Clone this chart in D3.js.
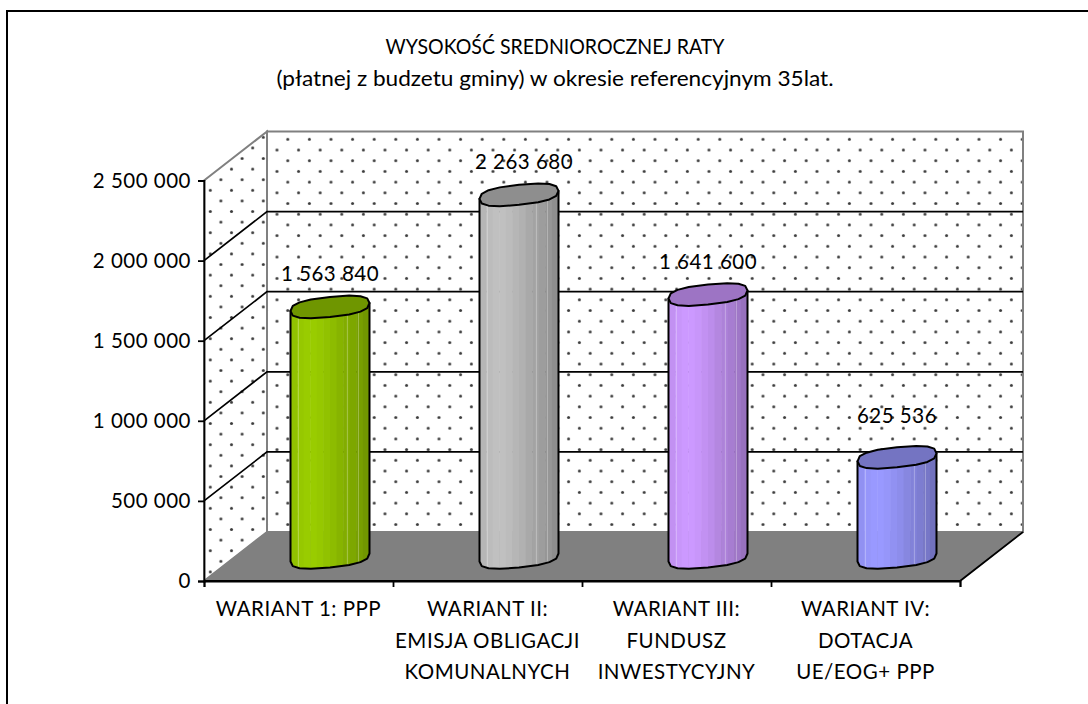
<!DOCTYPE html>
<html>
<head>
<meta charset="utf-8">
<title>Wysokość średniorocznej raty</title>
<script src="https://d3js.org/d3.v7.min.js" charset="utf-8"></script>
<style>
*{
	margin: 0;
	padding: 0;
}
body{
	background: #fff;
}
svg{
	display: block;
}
text{
	font-family: Lato, "Open Sans", sans-serif;
	font-size: 20.5px;
	letter-spacing: 0.5px;
	fill: #000;
}
</style>
</head>
<body>
<script>

	var width = 1088;
	var height = 704;

	var titleLines = ['WYSOKOŚĆ SREDNIOROCZNEJ RATY', '(płatnej z budzetu gminy) w okresie referencyjnym 35lat.'];
	var titleWidths = [339, 557];
	var categories = ['WARIANT 1: PPP', 'WARIANT II:', 'WARIANT III:', 'WARIANT IV:'];
	var categoryLines = [
		['WARIANT 1: PPP'],
		['WARIANT II:', 'EMISJA OBLIGACJI', 'KOMUNALNYCH'],
		['WARIANT III:', 'FUNDUSZ', 'INWESTYCYJNY'],
		['WARIANT IV:', 'DOTACJA', 'UE/EOG+ PPP']
	];
	var values = [1563840, 2263680, 1641600, 625536];
	var yTicks = [0, 500000, 1000000, 1500000, 2000000, 2500000];
	var bodyColors = ['#99cc00', '#c0c0c0', '#cc99ff', '#9999ff'];
	var topColors = ['#6f9600', '#8e8e8e', '#9d74c4', '#7474c2'];
	//jasnosc paskow walca, od lewej do prawej
	var shades = [0.95, 0.98, 1, 1, 0.98, 0.95, 0.92, 0.88, 0.85, 0.82, 0.78, 0.74];
	var highlights = [0.1, 0.72, 0.86];

	var fmt = d3.formatLocale({decimal: ',', thousands: ' ', grouping: [3], currency: ['', '']}).format(',');

	//glebokosc 3D
	var depthX = 63;
	var depthY = -49;

	var y = d3.scaleLinear().domain([0, 2500000]).range([581, 180.5]);
	var x = d3.scaleBand().domain(categories).range([204, 960]);
	var xTicks = d3.scaleLinear().domain([0, 4]).range([204, 960]);

	var left = x.range()[0], right = x.range()[1];
	var bottom = y(0), top_ = y(2500000);

	var svg = d3.select('body')
				.append('svg')
				.attr('width', width)
				.attr('height', height);

	var defs = svg.append('defs');

	function dotPattern(id, ox, oy, w, h){
		var p = defs.append('pattern')
			.attr('id', id)
			.attr('patternUnits', 'userSpaceOnUse')
			.attr('x', ox - w / 4)
			.attr('y', oy - h / 4)
			.attr('width', w)
			.attr('height', h);
		p.append('rect').attr('width', w).attr('height', h).attr('fill', '#fff');
		[[w / 4, h * 3 / 4], [w * 3 / 4, h / 4]].forEach(function(c){
			p.append('circle').attr('cx', c[0]).attr('cy', c[1]).attr('r', 1.5).attr('fill', '#3c3c3c');
		});
	}
	dotPattern('dotsBack', 277, 139.3, 21.6, 21.4);
	dotPattern('dotsSide', 210.3, 179.7, 21.2, 21.2);

	//ramka (tylko gora i lewa strona)
	svg.append('path')
		.attr('d', d3.line()([[7, height], [7, 11], [width, 11]]))
		.attr('fill', 'none')
		.attr('stroke', '#000')
		.attr('stroke-width', 2);

	//tytul
	svg.selectAll('.title').data(titleLines).enter().append('text')
		.attr('class', 'title')
		.attr('x', 555)
		.attr('y', (d, i) => 54 + i * 32)
		.attr('text-anchor', 'middle')
		.attr('textLength', (d, i) => titleWidths[i])
		.attr('lengthAdjust', 'spacingAndGlyphs')
		.style('letter-spacing', '0')
		.text((d) => d);

	//sciana tylna
	svg.append('rect')
		.attr('x', left + depthX)
		.attr('y', top_ + depthY)
		.attr('width', right - left)
		.attr('height', bottom - top_)
		.attr('fill', 'url(#dotsBack)')
		.attr('stroke', '#808080')
		.attr('stroke-width', 2);

	//sciana boczna
	svg.append('path')
		.attr('d', d3.line()([[left, top_], [left + depthX, top_ + depthY], [left + depthX, bottom + depthY], [left, bottom]]) + 'Z')
		.attr('fill', 'url(#dotsSide)')
		.attr('stroke', '#808080')
		.attr('stroke-width', 2);

	//podloga
	svg.append('path')
		.attr('d', d3.line()([[left, bottom], [left + depthX, bottom + depthY], [right + depthX, bottom + depthY], [right, bottom]]) + 'Z')
		.attr('fill', '#808080')
		.attr('stroke', '#808080')
		.attr('stroke-width', 1);

	//linie siatki
	var gridVals = yTicks.slice(1, -1);
	svg.selectAll('.grid').data(gridVals).enter().append('path')
		.attr('class', 'grid')
		.attr('d', (d) => d3.line()([[left, y(d)], [left + depthX, y(d) + depthY], [right + depthX, y(d) + depthY]]))
		.attr('fill', 'none')
		.attr('stroke', '#000')
		.attr('stroke-width', 1.7);

	//dolna krawedz podlogi
	svg.append('path')
		.attr('d', d3.line()([[left, bottom], [right, bottom], [right + depthX, bottom + depthY]]))
		.attr('fill', 'none')
		.attr('stroke', '#000')
		.attr('stroke-width', 1.8);

	//osie
	var yAxis = svg.append('g')
		.attr('transform', 'translate(' + left + ',0)')
		.call(d3.axisLeft(y).tickValues(yTicks).tickFormat(fmt).tickSize(6).tickPadding(7));
	yAxis.selectAll('path,line').attr('stroke', '#000').attr('stroke-width', 1.8);
	yAxis.selectAll('text').style('font-family', 'Lato').style('font-size', '20.5px').attr('fill', '#000');

	var xAxis = svg.append('g')
		.attr('transform', 'translate(0,' + bottom + ')')
		.call(d3.axisBottom(xTicks).ticks(4).tickFormat('').tickSize(6).tickSizeOuter(6));
	xAxis.selectAll('path,line').attr('stroke', '#000').attr('stroke-width', 1.8);

	svg.selectAll('.cat').data(categoryLines).enter().append('text')
		.attr('class', 'cat')
		.attr('text-anchor', 'middle')
		.each(function(d, i){
			d3.select(this).selectAll('tspan').data(d).enter().append('tspan')
				.attr('x', x(categories[i]) + x.bandwidth() / 2)
				.attr('y', (l, j) => 616 + j * 31.5)
				.text((l) => l);
		});

	//walce
	var radiusX = 39.5, radiusY = 10, tilt = 4;
	var baseY = y(0) - 23.5;

	function rim(cx, cy, from, to, n){
		return d3.range(n + 1).map(function(k){
			var t = from + (to - from) * k / n;
			var c = Math.cos(t), s = Math.sin(t);
			//bardziej kanciaste niz elipsa
			var cc = Math.sign(c) * Math.pow(Math.abs(c), 0.75);
			var ss = Math.sign(s) * Math.pow(Math.abs(s), 0.75);
			return [cx + radiusX * cc, cy + radiusY * ss - tilt * cc];
		});
	}

	var bars = svg.selectAll('.bar').data(values).enter().append('g').attr('class', 'bar');

	bars.each(function(v, i){
		var g = d3.select(this);
		var cx = x(categories[i]) + x.bandwidth() / 2 + depthX / 2;
		var topY = baseY - (y(0) - y(v));

		//bok walca: gorna krawedz + dolna polowa podstawy
		var side = [[cx - radiusX, topY + tilt], [cx + radiusX, topY - tilt]]
			.concat(rim(cx, baseY, 0, Math.PI, 8));
		var sideD = d3.line()(side) + 'Z';

		defs.append('clipPath').attr('id', 'body' + i)
			.append('path').attr('d', sideD);

		var strip = d3.scaleBand().domain(d3.range(shades.length)).range([cx - radiusX, cx + radiusX]);
		var base = d3.rgb(bodyColors[i]);
		var body = g.append('g').attr('clip-path', 'url(#body' + i + ')');

		body.selectAll('rect').data(shades).enter().append('rect')
			.attr('x', (s, k) => strip(k))
			.attr('y', topY - 14)
			.attr('width', strip.bandwidth() + 0.5)
			.attr('height', baseY - topY + 28)
			.attr('fill', (s) => d3.rgb(base.r * s, base.g * s, base.b * s).formatHex());

		body.selectAll('line').data(highlights).enter().append('line')
			.attr('x1', (f) => cx - radiusX + f * radiusX * 2)
			.attr('x2', (f) => cx - radiusX + f * radiusX * 2)
			.attr('y1', topY - 14)
			.attr('y2', baseY + 14)
			.attr('stroke', '#fff')
			.attr('stroke-opacity', 0.3);

		g.append('path')
			.attr('d', sideD)
			.attr('fill', 'none')
			.attr('stroke', '#000')
			.attr('stroke-width', 2)
			.attr('stroke-linejoin', 'round');

		g.append('path')
			.attr('d', d3.line()(rim(cx, topY, 0, Math.PI * 2, 16)) + 'Z')
			.attr('fill', topColors[i])
			.attr('stroke', '#000')
			.attr('stroke-width', 2)
			.attr('stroke-linejoin', 'round');

		//etykieta wartosci
		g.append('text')
			.attr('x', cx + (i === 1 ? 5 : 0))
			.attr('y', topY - (i === 3 ? 34 : 26))
			.attr('text-anchor', 'middle')
			.text(fmt(v));
	});

</script>
</body>
</html>
